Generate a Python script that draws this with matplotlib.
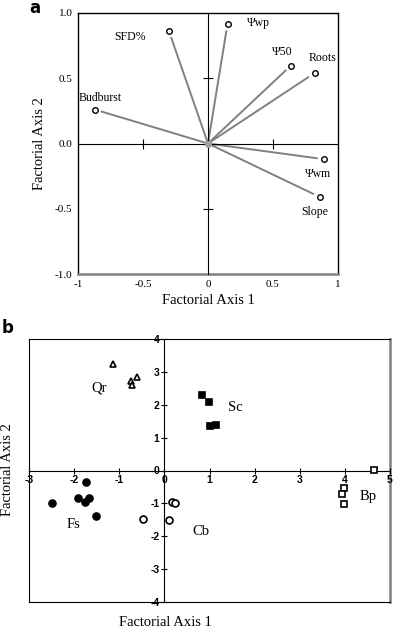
import numpy as np
import matplotlib.pyplot as plt

plt.rcParams['font.family'] = ['Liberation Serif', 'DejaVu Serif']
plt.rcParams['axes.unicode_minus'] = False

# panel a: variable loadings
var_names = ['Budburst', 'SFD%', 'Ψwp', 'Ψ50', 'Roots', 'Ψwm', 'Slope']
var_x = [-0.87, -0.30, 0.15, 0.635, 0.82, 0.89, 0.86]
var_y = [0.26, 0.86, 0.915, 0.595, 0.54, -0.12, -0.41]
lab_off = [(4, 8), (-17, -4), (14, 1), (-6, 10), (6, 11), (-4, -11), (-4, -11)]

# panel b: site scores
groups = ['Qr', 'Sc', 'Fs', 'Cb', 'Bp']
gx = {
    'Qr': [-1.14, -0.74, -0.72, -0.60],
    'Sc': [0.83, 0.99, 1.01, 1.14],
    'Fs': [-2.50, -1.92, -1.73, -1.77, -1.66, -1.52],
    'Cb': [-0.47, 0.11, 0.17, 0.23],
    'Bp': [4.65, 3.97, 3.94, 3.98],
}
gy = {
    'Qr': [3.24, 2.72, 2.60, 2.84],
    'Sc': [2.30, 2.09, 1.35, 1.38],
    'Fs': [-0.99, -0.85, -0.36, -0.97, -0.83, -1.38],
    'Cb': [-1.49, -1.50, -0.97, -0.98],
    'Bp': [0.02, -0.53, -0.72, -1.02],
}
gmark = {'Qr': '^', 'Sc': 's', 'Fs': 'o', 'Cb': 'o', 'Bp': 's'}
gfill = {'Qr': 'white', 'Sc': 'black', 'Fs': 'black', 'Cb': 'white', 'Bp': 'white'}
glab = {'Qr': (-1.45, 2.5), 'Sc': (1.57, 1.93), 'Fs': (-2.02, -1.65),
        'Cb': (0.82, -1.87), 'Bp': (4.52, -0.8)}

W, H = 394, 627
fig = plt.figure(figsize=(W / 100, H / 100), dpi=100)


def box(l, t, r, b):
    return [l / W, 1 - b / H, (r - l) / W, (b - t) / H]


# ---- panel a ----
pa = box(78, 13, 338, 274)
fa = fig.add_axes(pa)  # frame + outer tick labels
fa.set_xlim(-1, 1)
fa.set_ylim(-1, 1)
fa.set_xticks([-1, -0.5, 0, 0.5, 1])
fa.set_xticklabels(['-1', '-0.5', '0', '0.5', '1'])
fa.set_yticks([-1, -0.5, 0, 0.5, 1])
fa.set_yticklabels(['-1.0', '-0.5', '0.0', '0.5', '1.0'])
fa.tick_params(length=0, labelsize=8, pad=4)
for s in fa.spines.values():
    s.set_linewidth(1.0)
fa.spines['bottom'].set_color('#808080')
fa.spines['bottom'].set_linewidth(1.8)
fa.set_xlabel('Factorial Axis 1', fontsize=10.5, labelpad=4)
fa.set_ylabel('Factorial Axis 2', fontsize=10.5, labelpad=6)

ax = fig.add_axes(pa, facecolor='none')
ax.set_xlim(-1, 1)
ax.set_ylim(-1, 1)
for s in ['top', 'right']:
    ax.spines[s].set_visible(False)
ax.spines['left'].set_position('zero')
ax.spines['bottom'].set_position('zero')
ax.set_xticks([-0.5, 0.5])
ax.set_yticks([-0.5, 0.5])
ax.tick_params(direction='inout', length=7, labelleft=False, labelbottom=False)

for name, x, y, off in zip(var_names, var_x, var_y, lab_off):
    ax.plot([0, x * 0.94], [0, y * 0.94], color='#808080', lw=1.4, zorder=2)
    ax.plot(x, y, 'o', ms=4, mfc='white', mec='black', mew=1.0, zorder=3)
    ha = 'left' if name == 'Ψwp' else ('right' if name == 'SFD%' else 'center')
    ax.annotate(name, (x, y), xytext=off, textcoords='offset points',
                fontsize=8.5, ha=ha, va='center')
ax.plot(0, 0, 'o', ms=5, color='#a0a0a0', mec='none', zorder=4)

fig.text(35 / W, 1 - 8 / H, 'a', fontsize=12, fontweight='bold',
         family='DejaVu Sans', ha='center', va='center')

# ---- panel b ----
pb = box(29, 339, 390, 602)
fb = fig.add_axes(pb)
fb.set_xlim(-3, 5)
fb.set_ylim(-4, 4)
fb.set_xticks([])
fb.set_yticks([])
fb.spines['right'].set_color('#808080')
fb.spines['right'].set_linewidth(1.8)

bx = fig.add_axes(pb, facecolor='none')
bx.set_xlim(-3, 5)
bx.set_ylim(-4, 4)
for s in ['top', 'right']:
    bx.spines[s].set_visible(False)
bx.spines['left'].set_position('zero')
bx.spines['bottom'].set_position('zero')
bx.set_xticks(np.arange(-3, 6))
bx.set_yticks(np.arange(-4, 5))
bx.tick_params(direction='inout', length=5, labelsize=7.5, pad=1)
for t in bx.get_xticklabels() + bx.get_yticklabels():
    t.set_family(['Liberation Sans', 'DejaVu Sans'])
    t.set_fontweight('bold')

for g in groups:
    bx.plot(gx[g], gy[g], linestyle='none', marker=gmark[g], ms=5,
            mfc=gfill[g], mec='black', mew=1.2, zorder=3)
    bx.text(glab[g][0], glab[g][1], g, fontsize=10.5, ha='center', va='center')

fig.text(165 / W, 1 - 622 / H, 'Factorial Axis 1', fontsize=10.5,
         ha='center', va='center')
fig.text(8 / W, 1 - 470 / H, 'Factorial Axis 2', fontsize=10.5,
         ha='center', va='center', rotation=90)
fig.text(8 / W, 1 - 328 / H, 'b', fontsize=12, fontweight='bold',
         family='DejaVu Sans', ha='center', va='center')

fig.savefig('out.png', dpi=100)
